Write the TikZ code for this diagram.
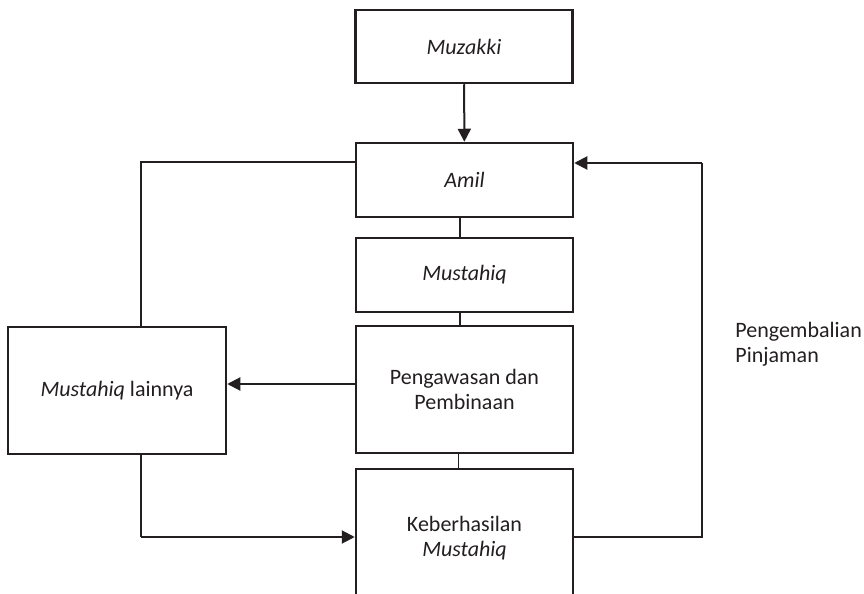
\documentclass[tikz,border=0pt]{standalone}
\usepackage{fontspec}
\setmainfont{Carlito}
\usetikzlibrary{arrows.meta}
\definecolor{ink}{HTML}{231F20}
\begin{document}
\begin{tikzpicture}[x=0.5pt,y=-0.5pt,
  font=\fontsize{11}{12.5}\selectfont,
  box/.style={draw=ink, line width=1.25pt, minimum width=108.5pt, align=center, inner sep=2pt, text=ink},
  link/.style={draw=ink, line width=0.55pt},
  flow/.style={draw=ink, line width=1pt, -{Triangle[length=6.5pt,width=6.5pt]}}]
\useasboundingbox (0,0) rectangle (864,594);
\clip (0,0) rectangle (864,594);

% boxes
\node[box, minimum height=36.5pt] (muz)  at (464,46.5)  {\textit{Muzakki}};
\node[box, minimum height=37pt]   (amil) at (464.5,180) {\textit{Amil}};
\node[box, minimum height=37pt]   (mus)  at (464.5,275) {\textit{Mustahiq}};
\node[box, minimum height=63.5pt] (peng) at (464.5,389.5) {Pengawasan dan\\Pembinaan};
\node[box, minimum height=69pt]   (keb)  at (464.5,538) {Keberhasilan\\\textit{Mustahiq}};
\node[box, minimum height=63.5pt, minimum width=109pt] (lain) at (117,390.5) {\textit{Mustahiq} lainnya};

% label of the return loop
\node[anchor=west, align=left, inner sep=0pt, text=ink] (ret) at (735,344) {Pengembalian\\Pinjaman};

% routing corners
\coordinate (lt) at (141,162);
\coordinate (lb) at (141,537);
\coordinate (rt) at (702,163);
\coordinate (rb) at (702,537);

% main chain
\draw[flow] (muz) -- (amil);
\draw[link] ([xshift=-2.25pt]amil.south) -- ([xshift=-2.25pt]mus.north);
\draw[link] ([xshift=-2.25pt]mus.south) -- ([xshift=-2.25pt]peng.north);
\draw[link] ([xshift=-3pt]peng.south) -- ([xshift=-3pt]keb.north);

% left branch
\draw[link] (amil.west |- lt) -- (lt) -- (lt |- lain.north);
\draw[flow] ([yshift=2.75pt]peng.west) coordinate (pa) -- (pa -| lain.east);
\draw[link] (lt |- lain.south) -- (lb);
\draw[flow] (lb) -- (lb -| keb.west);

% return loop on the right
\draw[link] (keb.east |- rb) -- (rb) -- (rt);
\draw[flow] (rt) -- (rt -| amil.east);
\end{tikzpicture}
\end{document}
